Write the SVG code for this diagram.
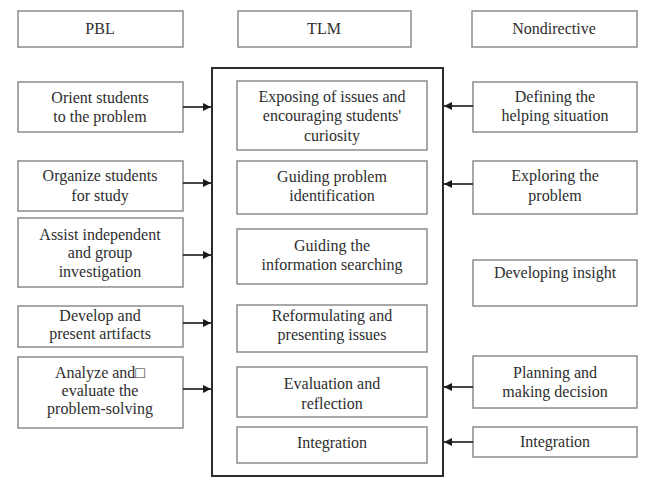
<svg xmlns="http://www.w3.org/2000/svg" width="651" height="479" viewBox="0 0 651 479">
<style>
.box{fill:#fff;stroke:#8c8c8c;stroke-width:1.5}
.frame{fill:none;stroke:#2b2b2b;stroke-width:2}
text{font-family:'Liberation Serif','Times New Roman','DejaVu Serif',serif;font-size:16px;fill:#2e2e2e;text-anchor:middle}
.con{stroke:#1a1a1a;stroke-width:1.6;fill:none;marker-end:url(#ah)}
</style>
<defs>
<marker id="ah" viewBox="0 0 10 10" refX="10" refY="5" markerWidth="9" markerHeight="8" markerUnits="userSpaceOnUse" orient="auto">
<path d="M0,0 L10,5 L0,10 z" fill="#1a1a1a"/>
</marker>
</defs>
<rect width="651" height="479" fill="#fff"/>
<g id="hdr-pbl"><rect class="box" x="18" y="11" width="165" height="36"/><text x="100" y="34">PBL</text></g>
<g id="hdr-tlm"><rect class="box" x="238" y="11" width="173" height="36"/><text x="324" y="34">TLM</text></g>
<g id="hdr-nd"><rect class="box" x="472" y="11" width="165" height="36"/><text x="554" y="34">Nondirective</text></g>

<g id="tlm-frame"><rect class="frame" x="212" y="68" width="231" height="408"/></g>

<g id="pbl1"><rect class="box" x="18" y="82" width="165" height="50"/><text x="100" y="103">Orient students</text><text x="100" y="122">to the problem</text></g>
<g id="pbl2"><rect class="box" x="18" y="161" width="165" height="50"/><text x="100" y="181">Organize students</text><text x="100" y="201">for study</text></g>
<g id="pbl3"><rect class="box" x="18" y="218" width="165" height="69"/><text x="100" y="240">Assist independent</text><text x="100" y="258">and group</text><text x="100" y="277">investigation</text></g>
<g id="pbl4"><rect class="box" x="18" y="306" width="165" height="41"/><text x="100" y="321">Develop and</text><text x="100" y="339">present artifacts</text></g>
<g id="pbl5"><rect class="box" x="18" y="357" width="165" height="71"/><text x="100" y="378">Analyze and□</text><text x="100" y="396">evaluate the</text><text x="100" y="414">problem-solving</text></g>

<g id="tlm1"><rect class="box" x="237" y="81" width="190" height="69"/><text x="332" y="102">Exposing of issues and</text><text x="332" y="121">encouraging students'</text><text x="332" y="141">curiosity</text></g>
<g id="tlm2"><rect class="box" x="237" y="161" width="190" height="53"/><text x="332" y="182">Guiding problem</text><text x="332" y="201">identification</text></g>
<g id="tlm3"><rect class="box" x="237" y="229" width="190" height="55"/><text x="332" y="251">Guiding the</text><text x="332" y="270">information searching</text></g>
<g id="tlm4"><rect class="box" x="237" y="305" width="190" height="47"/><text x="332" y="321">Reformulating and</text><text x="332" y="340">presenting issues</text></g>
<g id="tlm5"><rect class="box" x="237" y="367" width="190" height="50"/><text x="332" y="389">Evaluation and</text><text x="332" y="409">reflection</text></g>
<g id="tlm6"><rect class="box" x="237" y="427" width="190" height="36"/><text x="332" y="448">Integration</text></g>

<g id="nd1"><rect class="box" x="473" y="82" width="164" height="50"/><text x="555" y="102">Defining the</text><text x="555" y="121">helping situation</text></g>
<g id="nd2"><rect class="box" x="473" y="161" width="164" height="53"/><text x="555" y="181">Exploring the</text><text x="555" y="201">problem</text></g>
<g id="nd3"><rect class="box" x="473" y="260" width="164" height="46"/><text x="555" y="278">Developing insight</text></g>
<g id="nd4"><rect class="box" x="473" y="356" width="164" height="52"/><text x="555" y="378">Planning and</text><text x="555" y="397">making decision</text></g>
<g id="nd5"><rect class="box" x="473" y="427" width="164" height="30"/><text x="555" y="447">Integration</text></g>

<g id="connectors">
<line class="con" x1="183" y1="107" x2="211" y2="107"/>
<line class="con" x1="183" y1="183" x2="211" y2="183"/>
<line class="con" x1="183" y1="255" x2="211" y2="255"/>
<line class="con" x1="183" y1="323" x2="211" y2="323"/>
<line class="con" x1="183" y1="389" x2="211" y2="389"/>
<line class="con" x1="473" y1="106" x2="444" y2="106"/>
<line class="con" x1="473" y1="184" x2="444" y2="184"/>
<line class="con" x1="473" y1="387" x2="444" y2="387"/>
<line class="con" x1="473" y1="442" x2="444" y2="442"/>
</g>
</svg>
